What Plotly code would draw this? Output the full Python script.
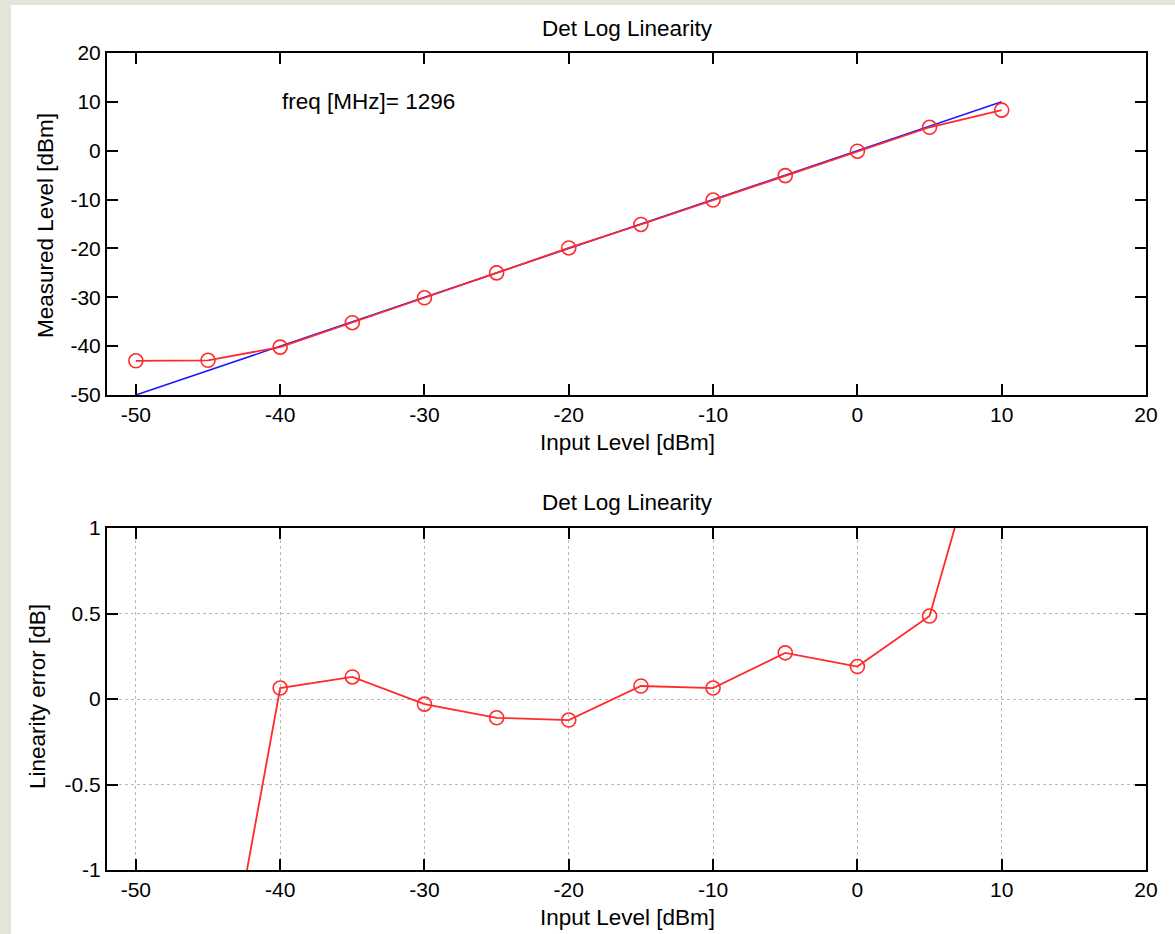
import plotly.graph_objects as go

# ---- data ----
input_level = [-50, -45, -40, -35, -30, -25, -20, -15, -10, -5, 0, 5, 10]
measured_level = [-43.0, -42.9, -40.2, -35.2, -30.1, -25.0, -19.9, -15.1, -10.1, -5.1, -0.1, 4.8, 8.3]
ideal_x = [-50, 10]
ideal_y = [-50, 10]
linearity_error = [-7.0, -2.25, 0.064, 0.129, -0.03, -0.11, -0.123, 0.076, 0.064, 0.27, 0.19, 0.485, 1.96]

x_ticks = [-50, -40, -30, -20, -10, 0, 10, 20]
x_ticktext = ["-50", "-40", "-30", "-20", "-10", "0", "10", "20"]
y1_ticks = [-50, -40, -30, -20, -10, 0, 10, 20]
y1_ticktext = ["-50", "-40", "-30", "-20", "-10", "0", "10", "20"]
y2_ticks = [-1, -0.5, 0, 0.5, 1]
y2_ticktext = ["-1", "-0.5", "0", "0.5", "1"]

title_text = "Det Log Linearity"
freq_text = "freq [MHz]= 1296"

W, H = 1175, 934
FONT = "Liberation Sans, Arial, sans-serif"
FS = 21
FS_TXT = 22.5

def px_x(p):
    return p / W

def px_y(p):
    return 1 - p / H

fig = go.Figure()

fig.add_trace(go.Scatter(x=ideal_x, y=ideal_y, mode="lines",
                         line=dict(color="#1a1aff", width=1.6),
                         xaxis="x", yaxis="y", showlegend=False))
fig.add_trace(go.Scatter(x=input_level, y=measured_level, mode="lines+markers",
                         line=dict(color="#ff2a2a", width=1.8),
                         marker=dict(symbol="circle-open", size=14, color="#ff2a2a",
                                     line=dict(width=1.6, color="#ff2a2a")),
                         xaxis="x", yaxis="y", showlegend=False))
fig.add_trace(go.Scatter(x=input_level, y=linearity_error, mode="lines+markers",
                         line=dict(color="#ff2a2a", width=1.8),
                         marker=dict(symbol="circle-open", size=14, color="#ff2a2a",
                                     line=dict(width=1.6, color="#ff2a2a")),
                         xaxis="x2", yaxis="y2", showlegend=False))

axis_common = dict(showline=True, linecolor="black", linewidth=2, mirror="ticks",
                   ticks="inside", ticklen=11, tickwidth=1.5, tickcolor="black",
                   tickfont=dict(family=FONT, size=FS, color="black"),
                   zeroline=False, automargin=False)

x_dom = [px_x(107), px_x(1146)]

fig.update_layout(
    width=W, height=H,
    margin=dict(l=0, r=0, t=0, b=0, pad=0, autoexpand=False),
    paper_bgcolor="#e4e5d8",
    plot_bgcolor="white",
    xaxis=dict(domain=x_dom, range=[-52, 20], tickvals=x_ticks, ticktext=x_ticktext,
               anchor="y", showgrid=False, **axis_common),
    yaxis=dict(domain=[px_y(395), px_y(53)], range=[-50, 20], tickvals=y1_ticks,
               ticktext=y1_ticktext, anchor="x", showgrid=False, **axis_common),
    xaxis2=dict(domain=x_dom, range=[-52, 20], tickvals=x_ticks, ticktext=x_ticktext,
                anchor="y2", showgrid=True, gridcolor="#b8b8b8", griddash="dot",
                gridwidth=1.2, **axis_common),
    yaxis2=dict(domain=[px_y(870), px_y(528)], range=[-1, 1], tickvals=y2_ticks,
                ticktext=y2_ticktext, anchor="x2", showgrid=True, gridcolor="#b8b8b8",
                griddash="dot", gridwidth=1.2, **axis_common),
    shapes=[dict(type="rect", xref="paper", yref="paper", x0=px_x(11), x1=1,
                 y0=0, y1=px_y(5), fillcolor="white", line=dict(width=0), layer="below")],
)

ann_font = dict(family=FONT, size=FS_TXT, color="black")
annotations = [
    dict(text=title_text, x=px_x(627), y=px_y(28)),
    dict(text=title_text, x=px_x(627), y=px_y(503)),
    dict(text="Input Level [dBm]", x=px_x(627), y=px_y(442)),
    dict(text="Input Level [dBm]", x=px_x(627), y=px_y(917)),
    dict(text="Measured Level [dBm]", x=px_x(45), y=px_y(226), textangle=-90),
    dict(text="Linearity error [dB]", x=px_x(37), y=px_y(697), textangle=-90),
]
for a in annotations:
    fig.add_annotation(xref="paper", yref="paper", showarrow=False,
                       xanchor="center", yanchor="middle", font=ann_font, **a)

fig.add_annotation(text=freq_text, x=-40, y=10, xref="x", yref="y", showarrow=False,
                   xanchor="left", yanchor="middle", font=ann_font)

post = ("document.body.style.margin='0';document.body.style.padding='0';"
        "document.documentElement.style.margin='0';"
        "document.body.style.overflow='hidden';")
fig.write_html("out.html", post_script=post, config={"displayModeBar": False})
